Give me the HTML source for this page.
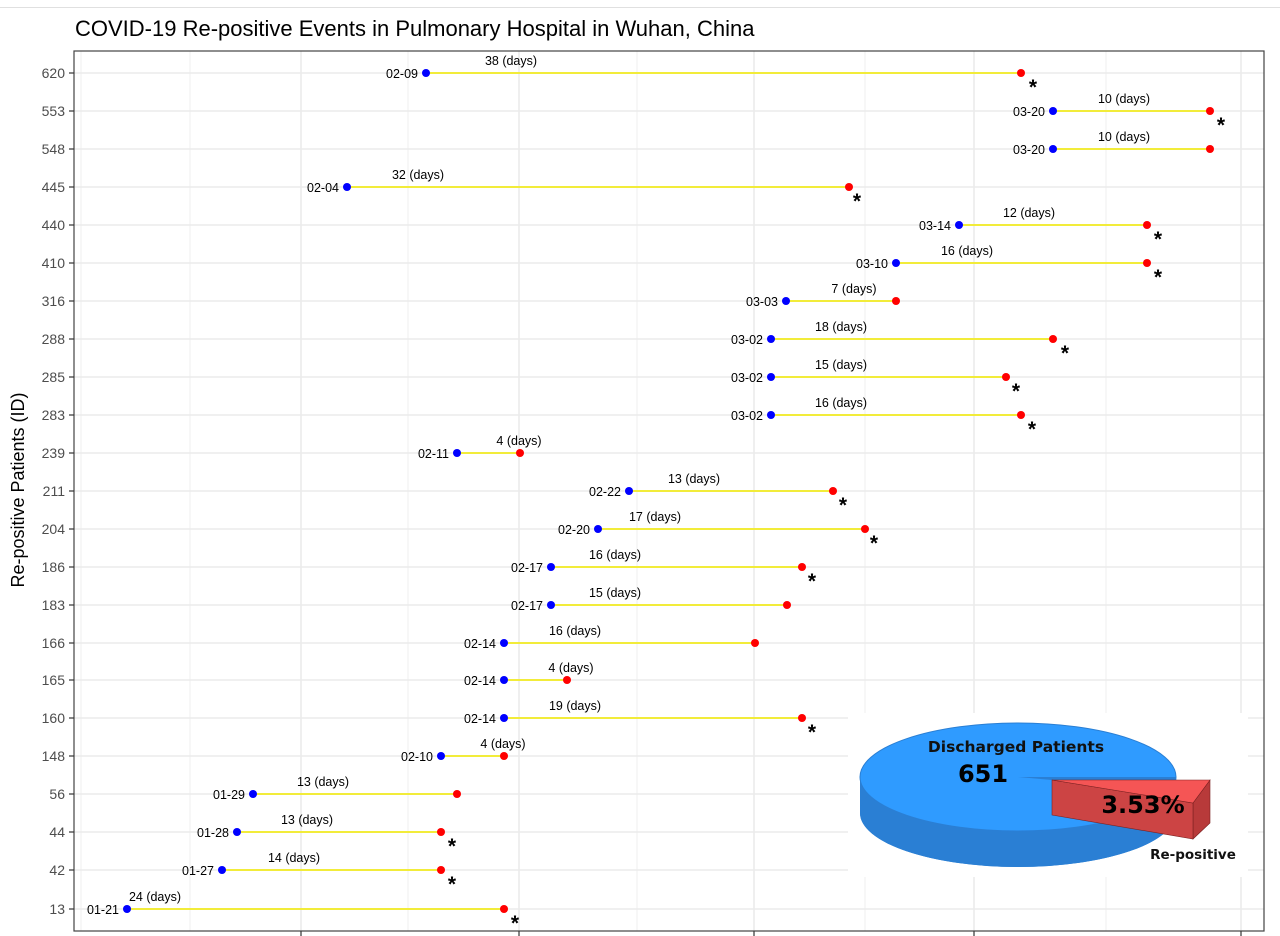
<!DOCTYPE html>
<html><head><meta charset="utf-8"><style>
html,body{margin:0;padding:0;background:#fff;}
svg{display:block;font-family:"Liberation Sans",sans-serif;}
</style></head><body>
<svg width="1280" height="936" viewBox="0 0 1280 936" xmlns="http://www.w3.org/2000/svg">
<line x1="0" y1="7.5" x2="1280" y2="7.5" stroke="#e0e0e0" stroke-width="1"/>
<text x="75" y="36" font-size="22" fill="#000">COVID-19 Re-positive Events in Pulmonary Hospital in Wuhan, China</text>
<text transform="translate(24,490) rotate(-90)" font-size="18" text-anchor="middle" fill="#000">Re-positive Patients (ID)</text>
<g stroke="#ebebeb" stroke-width="0.8">
<line x1="81" y1="51" x2="81" y2="931"/><line x1="190" y1="51" x2="190" y2="931"/><line x1="408" y1="51" x2="408" y2="931"/><line x1="637" y1="51" x2="637" y2="931"/><line x1="865" y1="51" x2="865" y2="931"/><line x1="1106" y1="51" x2="1106" y2="931"/>
</g>
<g stroke="#ebebeb" stroke-width="1.6">
<line x1="301" y1="51" x2="301" y2="931"/><line x1="519" y1="51" x2="519" y2="931"/><line x1="754" y1="51" x2="754" y2="931"/><line x1="974" y1="51" x2="974" y2="931"/><line x1="1241" y1="51" x2="1241" y2="931"/>
<line x1="74" y1="73" x2="1264" y2="73"/><line x1="74" y1="111" x2="1264" y2="111"/><line x1="74" y1="149" x2="1264" y2="149"/><line x1="74" y1="187" x2="1264" y2="187"/><line x1="74" y1="225" x2="1264" y2="225"/><line x1="74" y1="263" x2="1264" y2="263"/><line x1="74" y1="301" x2="1264" y2="301"/><line x1="74" y1="339" x2="1264" y2="339"/><line x1="74" y1="377" x2="1264" y2="377"/><line x1="74" y1="415" x2="1264" y2="415"/><line x1="74" y1="453" x2="1264" y2="453"/><line x1="74" y1="491" x2="1264" y2="491"/><line x1="74" y1="529" x2="1264" y2="529"/><line x1="74" y1="567" x2="1264" y2="567"/><line x1="74" y1="605" x2="1264" y2="605"/><line x1="74" y1="643" x2="1264" y2="643"/><line x1="74" y1="680" x2="1264" y2="680"/><line x1="74" y1="718" x2="1264" y2="718"/><line x1="74" y1="756" x2="1264" y2="756"/><line x1="74" y1="794" x2="1264" y2="794"/><line x1="74" y1="832" x2="1264" y2="832"/><line x1="74" y1="870" x2="1264" y2="870"/><line x1="74" y1="909" x2="1264" y2="909"/>
</g>
<rect x="74" y="51" width="1190" height="880" fill="none" stroke="#444" stroke-width="1.2"/>
<g stroke="#333" stroke-width="1.2">
<line x1="69" y1="73" x2="74" y2="73"/><line x1="69" y1="111" x2="74" y2="111"/><line x1="69" y1="149" x2="74" y2="149"/><line x1="69" y1="187" x2="74" y2="187"/><line x1="69" y1="225" x2="74" y2="225"/><line x1="69" y1="263" x2="74" y2="263"/><line x1="69" y1="301" x2="74" y2="301"/><line x1="69" y1="339" x2="74" y2="339"/><line x1="69" y1="377" x2="74" y2="377"/><line x1="69" y1="415" x2="74" y2="415"/><line x1="69" y1="453" x2="74" y2="453"/><line x1="69" y1="491" x2="74" y2="491"/><line x1="69" y1="529" x2="74" y2="529"/><line x1="69" y1="567" x2="74" y2="567"/><line x1="69" y1="605" x2="74" y2="605"/><line x1="69" y1="643" x2="74" y2="643"/><line x1="69" y1="680" x2="74" y2="680"/><line x1="69" y1="718" x2="74" y2="718"/><line x1="69" y1="756" x2="74" y2="756"/><line x1="69" y1="794" x2="74" y2="794"/><line x1="69" y1="832" x2="74" y2="832"/><line x1="69" y1="870" x2="74" y2="870"/><line x1="69" y1="909" x2="74" y2="909"/>
<line x1="301" y1="931" x2="301" y2="936"/><line x1="519" y1="931" x2="519" y2="936"/><line x1="754" y1="931" x2="754" y2="936"/><line x1="974" y1="931" x2="974" y2="936"/><line x1="1241" y1="931" x2="1241" y2="936"/>
</g>
<g font-size="14" fill="#4d4d4d" text-anchor="end">
<text x="65" y="78">620</text><text x="65" y="116">553</text><text x="65" y="154">548</text><text x="65" y="192">445</text><text x="65" y="230">440</text><text x="65" y="268">410</text><text x="65" y="306">316</text><text x="65" y="344">288</text><text x="65" y="382">285</text><text x="65" y="420">283</text><text x="65" y="458">239</text><text x="65" y="496">211</text><text x="65" y="534">204</text><text x="65" y="572">186</text><text x="65" y="610">183</text><text x="65" y="648">166</text><text x="65" y="685">165</text><text x="65" y="723">160</text><text x="65" y="761">148</text><text x="65" y="799">56</text><text x="65" y="837">44</text><text x="65" y="875">42</text><text x="65" y="914">13</text>
</g>
<g stroke="#f2ec3a" stroke-width="2">
<line x1="426" y1="73" x2="1021" y2="73"/><line x1="1053" y1="111" x2="1210" y2="111"/><line x1="1053" y1="149" x2="1210" y2="149"/><line x1="347" y1="187" x2="849" y2="187"/><line x1="959" y1="225" x2="1147" y2="225"/><line x1="896" y1="263" x2="1147" y2="263"/><line x1="786" y1="301" x2="896" y2="301"/><line x1="771" y1="339" x2="1053" y2="339"/><line x1="771" y1="377" x2="1006" y2="377"/><line x1="771" y1="415" x2="1021" y2="415"/><line x1="457" y1="453" x2="520" y2="453"/><line x1="629" y1="491" x2="833" y2="491"/><line x1="598" y1="529" x2="865" y2="529"/><line x1="551" y1="567" x2="802" y2="567"/><line x1="551" y1="605" x2="787" y2="605"/><line x1="504" y1="643" x2="755" y2="643"/><line x1="504" y1="680" x2="567" y2="680"/><line x1="504" y1="718" x2="802" y2="718"/><line x1="441" y1="756" x2="504" y2="756"/><line x1="253" y1="794" x2="457" y2="794"/><line x1="237" y1="832" x2="441" y2="832"/><line x1="222" y1="870" x2="441" y2="870"/><line x1="127" y1="909" x2="504" y2="909"/>
</g>
<g fill="#0000ff">
<circle cx="426" cy="73" r="4"/><circle cx="1053" cy="111" r="4"/><circle cx="1053" cy="149" r="4"/><circle cx="347" cy="187" r="4"/><circle cx="959" cy="225" r="4"/><circle cx="896" cy="263" r="4"/><circle cx="786" cy="301" r="4"/><circle cx="771" cy="339" r="4"/><circle cx="771" cy="377" r="4"/><circle cx="771" cy="415" r="4"/><circle cx="457" cy="453" r="4"/><circle cx="629" cy="491" r="4"/><circle cx="598" cy="529" r="4"/><circle cx="551" cy="567" r="4"/><circle cx="551" cy="605" r="4"/><circle cx="504" cy="643" r="4"/><circle cx="504" cy="680" r="4"/><circle cx="504" cy="718" r="4"/><circle cx="441" cy="756" r="4"/><circle cx="253" cy="794" r="4"/><circle cx="237" cy="832" r="4"/><circle cx="222" cy="870" r="4"/><circle cx="127" cy="909" r="4"/>
</g>
<g fill="#ff0000">
<circle cx="1021" cy="73" r="4"/><circle cx="1210" cy="111" r="4"/><circle cx="1210" cy="149" r="4"/><circle cx="849" cy="187" r="4"/><circle cx="1147" cy="225" r="4"/><circle cx="1147" cy="263" r="4"/><circle cx="896" cy="301" r="4"/><circle cx="1053" cy="339" r="4"/><circle cx="1006" cy="377" r="4"/><circle cx="1021" cy="415" r="4"/><circle cx="520" cy="453" r="4"/><circle cx="833" cy="491" r="4"/><circle cx="865" cy="529" r="4"/><circle cx="802" cy="567" r="4"/><circle cx="787" cy="605" r="4"/><circle cx="755" cy="643" r="4"/><circle cx="567" cy="680" r="4"/><circle cx="802" cy="718" r="4"/><circle cx="504" cy="756" r="4"/><circle cx="457" cy="794" r="4"/><circle cx="441" cy="832" r="4"/><circle cx="441" cy="870" r="4"/><circle cx="504" cy="909" r="4"/>
</g>
<g font-size="12.5" fill="#000" text-anchor="end">
<text x="418" y="78">02-09</text><text x="1045" y="116">03-20</text><text x="1045" y="154">03-20</text><text x="339" y="192">02-04</text><text x="951" y="230">03-14</text><text x="888" y="268">03-10</text><text x="778" y="306">03-03</text><text x="763" y="344">03-02</text><text x="763" y="382">03-02</text><text x="763" y="420">03-02</text><text x="449" y="458">02-11</text><text x="621" y="496">02-22</text><text x="590" y="534">02-20</text><text x="543" y="572">02-17</text><text x="543" y="610">02-17</text><text x="496" y="648">02-14</text><text x="496" y="685">02-14</text><text x="496" y="723">02-14</text><text x="433" y="761">02-10</text><text x="245" y="799">01-29</text><text x="229" y="837">01-28</text><text x="214" y="875">01-27</text><text x="119" y="914">01-21</text>
</g>
<g font-size="12.5" fill="#000" text-anchor="middle">
<text x="511" y="65">38 (days)</text><text x="1124" y="103">10 (days)</text><text x="1124" y="141">10 (days)</text><text x="418" y="179">32 (days)</text><text x="1029" y="217">12 (days)</text><text x="967" y="255">16 (days)</text><text x="854" y="293">7 (days)</text><text x="841" y="331">18 (days)</text><text x="841" y="369">15 (days)</text><text x="841" y="407">16 (days)</text><text x="519" y="445">4 (days)</text><text x="694" y="483">13 (days)</text><text x="655" y="521">17 (days)</text><text x="615" y="559">16 (days)</text><text x="615" y="597">15 (days)</text><text x="575" y="635">16 (days)</text><text x="571" y="672">4 (days)</text><text x="575" y="710">19 (days)</text><text x="503" y="748">4 (days)</text><text x="323" y="786">13 (days)</text><text x="307" y="824">13 (days)</text><text x="294" y="862">14 (days)</text><text x="155" y="901">24 (days)</text>
</g>
<g font-size="21" font-weight="bold" fill="#000" text-anchor="middle">
<text x="1033" y="94">*</text><text x="1221" y="132">*</text><text x="857" y="208">*</text><text x="1158" y="246">*</text><text x="1158" y="284">*</text><text x="1065" y="360">*</text><text x="1016" y="398">*</text><text x="1032" y="436">*</text><text x="843" y="512">*</text><text x="874" y="550">*</text><text x="812" y="588">*</text><text x="812" y="739">*</text><text x="452" y="853">*</text><text x="452" y="891">*</text><text x="515" y="930">*</text>
</g>
<rect x="848" y="713" width="400" height="164" fill="#fff"/>
<path d="M860,777 L860,813 A158,54 0 0,0 1176,813 L1176,777 Z" fill="#2a7fd4"/>
<ellipse cx="1018" cy="813" rx="158" ry="54" fill="#2a7fd4"/>
<ellipse cx="1018" cy="777" rx="158" ry="54" fill="#2f9bff" stroke="#2a7fd4" stroke-width="1"/>
<path d="M1018,777 L1176,777 L1176,783 L1052,780 Z" fill="#2a7fd4"/>
<polygon points="1193,803 1210,780 1210,823 1193,839" fill="#b83a3a" stroke="#7a2020" stroke-width="0.6"/>
<polygon points="1052,780 1193,803 1193,839 1052,815" fill="#cc4444" stroke="#7a2020" stroke-width="0.6"/>
<polygon points="1052,780 1210,780 1193,803" fill="#f55555" stroke="#7a2020" stroke-width="0.6"/>
<text x="1016" y="752" font-family="'DejaVu Sans',sans-serif" font-weight="bold" font-size="15.5" text-anchor="middle" fill="#111">Discharged Patients</text>
<text x="983" y="782" font-family="'DejaVu Sans',sans-serif" font-weight="bold" font-size="24" text-anchor="middle" fill="#000">651</text>
<text x="1143" y="813" font-family="'DejaVu Sans',sans-serif" font-weight="bold" font-size="24" text-anchor="middle" fill="#000">3.53%</text>
<text x="1193" y="859" font-family="'DejaVu Sans',sans-serif" font-weight="bold" font-size="13.5" text-anchor="middle" fill="#111">Re-positive</text>
</svg>
</body></html>
